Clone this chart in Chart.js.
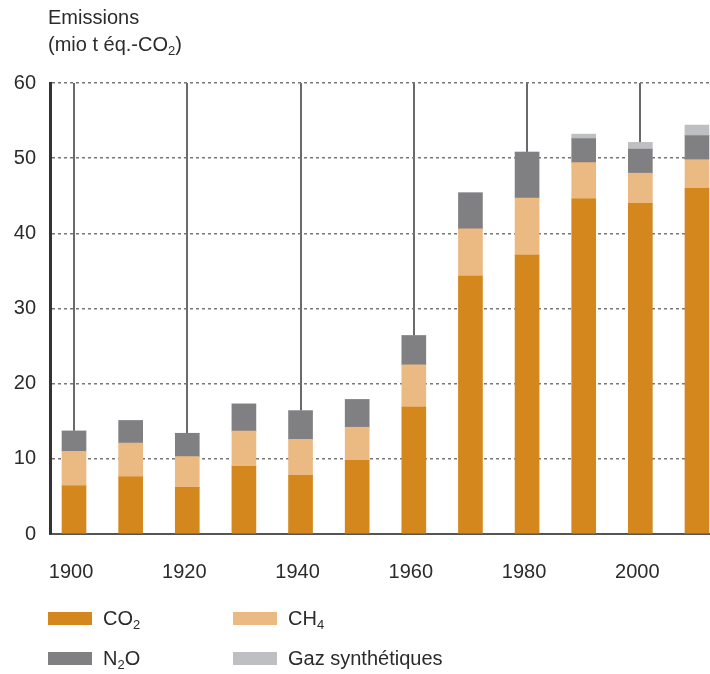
<!DOCTYPE html>
<html>
<head>
<meta charset="utf-8">
<script src="https://cdn.jsdelivr.net/npm/chart.js@4"></script>
<style>
  body { margin: 0; background: #fff; }
  #wrap { position: relative; width: 710px; height: 674px; font-family: "Liberation Sans", Arial, sans-serif; color: #2b2b2b; }
  #title { position: absolute; left: 48px; top: 4px; font-size: 20px; line-height: 27px; }
  #legend { position: absolute; left: 48px; top: 606px; width: 660px; font-size: 20px; }
  .item { position: absolute; height: 24px; line-height: 24px; white-space: nowrap; }
  .sw { display: inline-block; width: 44px; height: 13px; vertical-align: middle; margin-right: 11px; position: relative; top: -1px; }
  sub { font-size: 13px; vertical-align: -4px; line-height: 0; }
  canvas { position: absolute; left: 0; top: 0; }
</style>
</head>
<body>
<div id="wrap">
  <canvas id="chart" width="710" height="674"></canvas>
  <div id="title">Emissions<br>(mio t éq.-CO<sub>2</sub>)</div>
  <div id="legend"></div>
</div>
<script>
const years = [1900, 1910, 1920, 1930, 1940, 1950, 1960, 1970, 1980, 1990, 2000, 2010];
const co2 = [6.4, 7.6, 6.2, 9.0, 7.8, 9.8, 16.9, 34.3, 37.1, 44.6, 44.0, 46.0];
const ch4 = [4.6, 4.5, 4.1, 4.7, 4.8, 4.4, 5.6, 6.3, 7.6, 4.8, 4.0, 3.8];
const n2o = [2.7, 3.0, 3.1, 3.6, 3.8, 3.7, 3.9, 4.8, 6.1, 3.2, 3.2, 3.2];
const synth = [0, 0, 0, 0, 0, 0, 0, 0, 0, 0.6, 0.9, 1.4];
const tickYears = [1900, 1920, 1940, 1960, 1980, 2000];
const yTicks = [0, 10, 20, 30, 40, 50, 60];

const series = [
  { name: "CO<sub>2</sub>", data: co2, color: "#d3871d" },
  { name: "CH<sub>4</sub>", data: ch4, color: "#eaba82" },
  { name: "N<sub>2</sub>O", data: n2o, color: "#808083" },
  { name: "Gaz synthétiques", data: synth, color: "#bebfc3" },
];

const toPoints = (values) => values.map((v, i) => ({ x: years[i], y: v }));

new Chart(document.getElementById("chart"), {
  type: "bar",
  data: {
    datasets: series.map(({ data, color }) => ({
      data: toPoints(data),
      backgroundColor: color,
      borderWidth: 0,
      barThickness: 24,
    })),
  },
  options: {
    responsive: false,
    animation: false,
    layout: { padding: { top: 83, left: 0, right: 0, bottom: 0 } },
    plugins: { legend: { display: false }, tooltip: { enabled: false } },
    scales: {
      x: {
        type: "linear",
        stacked: true,
        offset: false,
        min: 1895.76,
        max: 2012.3,
        afterBuildTicks: (scale) => {
          scale.ticks = tickYears.map((v) => ({ value: v }));
        },
        afterFit: (scale) => {
          scale.height = 140;
        },
        grid: { color: "#6a6a6a", lineWidth: 2, drawTicks: false, offset: false },
        border: { color: "#555", width: 2 },
        ticks: {
          callback: (v) => String(v),
          color: "#2b2b2b",
          padding: 26,
          labelOffset: -3,
          maxRotation: 0,
          autoSkip: false,
          font: { family: "'Liberation Sans', Arial, sans-serif", size: 20 },
        },
      },
      y: {
        stacked: true,
        min: 0,
        max: 60,
        afterBuildTicks: (scale) => {
          scale.ticks = yTicks.map((v) => ({ value: v }));
        },
        afterFit: (scale) => {
          scale.width = 50;
        },
        grid: { color: "#777", lineWidth: 1.5, drawTicks: false },
        border: { color: "#333", width: 3, dash: [3, 3] },
        ticks: {
          color: "#2b2b2b",
          padding: 14,
          font: { family: "'Liberation Sans', Arial, sans-serif", size: 20 },
        },
      },
    },
  },
});

const legend = document.getElementById("legend");
const spots = [
  { left: 0, top: 0 },
  { left: 185, top: 0 },
  { left: 0, top: 40 },
  { left: 185, top: 40 },
];
series.forEach(({ name, color }, i) => {
  const el = document.createElement("div");
  el.className = "item";
  el.style.left = spots[i].left + "px";
  el.style.top = spots[i].top + "px";
  el.innerHTML = `<span class="sw" style="background:${color}"></span>${name}`;
  legend.appendChild(el);
});
</script>
</body>
</html>
